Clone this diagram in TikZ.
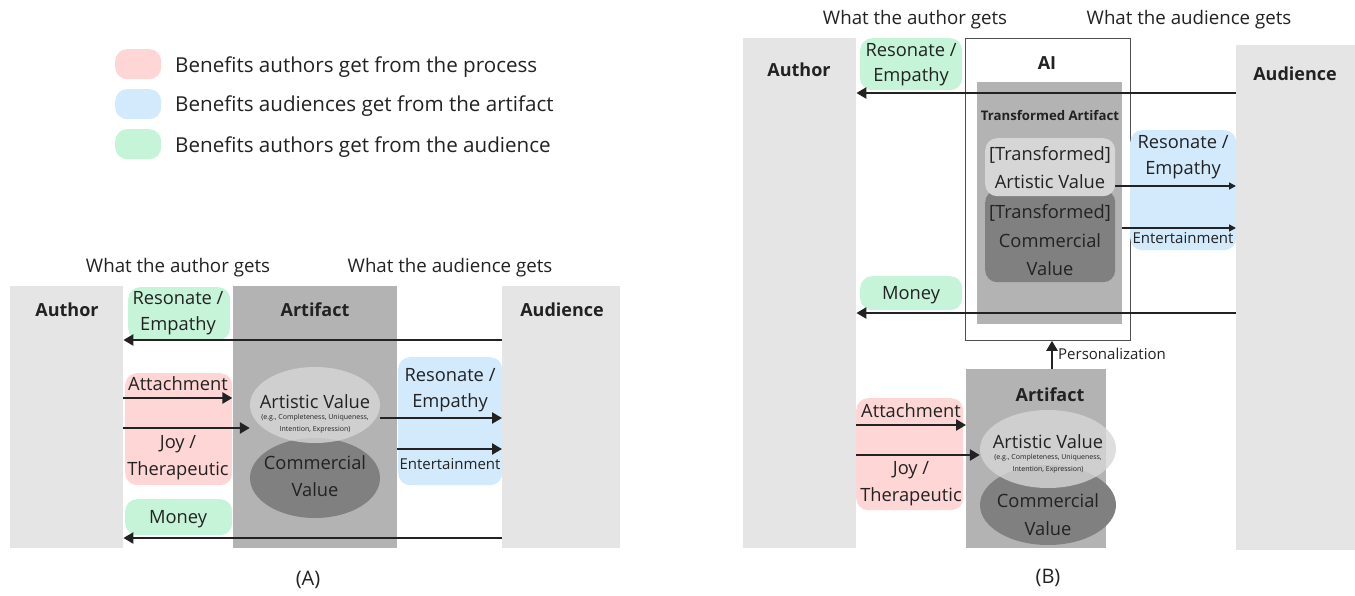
\documentclass[tikz,border=0pt]{standalone}
\usepackage{fontspec}
\setmainfont{Open Sans}
\usetikzlibrary{shapes.geometric,arrows.meta}
\definecolor{pinkb}{HTML}{FFD6D6}
\definecolor{blueb}{HTML}{D3EAFD}
\definecolor{greenb}{HTML}{C6F4D8}
\definecolor{sideg}{HTML}{E5E5E5}
\definecolor{artg}{HTML}{B3B3B3}
\definecolor{avg}{HTML}{D6D6D6}
\definecolor{cvg}{HTML}{808080}
\definecolor{txt}{HTML}{222222}
\tikzset{
  box/.style={inner sep=0pt, anchor=north west, draw=none},
  rbox/.style={box, rounded corners=12pt},
  lbl/.style={inner sep=0pt, text=txt, font=\fontsize{18.3}{21}\selectfont},
  blbl/.style={inner sep=0pt, text=txt, font=\fontsize{18}{21}\selectfont\bfseries},
  head/.style={inner sep=0pt, text=txt, font=\fontsize{18.7}{22}\selectfont},
  leg/.style={inner sep=0pt, text=txt, anchor=west, font=\fontsize{20.6}{24}\selectfont},
  ent/.style={inner sep=0pt, text=txt, font=\fontsize{15}{17}\selectfont},
  small/.style={inner sep=0pt, text=txt, font=\fontsize{7}{8}\selectfont},
  arr/.style={draw=txt, line width=2.6pt, -{Triangle[length=10pt,width=11pt]}},
  tarr/.style={draw=txt, line width=1.5pt, -{Triangle[length=7pt,width=7pt]}},
  ell/.style={ellipse, inner sep=0pt, draw=none},
}
\begin{document}
\begin{tikzpicture}[x=1pt,y=-1pt]
\useasboundingbox[fill=white] (0,0) rectangle (1355,596);
% legend
\node[rbox, fill=pinkb, minimum width=46pt, minimum height=30pt] (lp) at (115,49) {};
\node[rbox, fill=blueb, minimum width=46pt, minimum height=30pt] (lb) at (115,89) {};
\node[rbox, fill=greenb, minimum width=46pt, minimum height=30pt] (lg) at (115,129) {};
\node[leg] (lpt) at (175,67) {Benefits authors get from the process};
\node[leg] (lbt) at (175,106) {Benefits audiences get from the artifact};
\node[leg] (lgt) at (175,147) {Benefits authors get from the audience};

% ===== (A) =====
\node[head] (hAa) at (178,268) {What the author gets};
\node[head] (hAu) at (450,268) {What the audience gets};
\node[box, fill=sideg, minimum width=113pt, minimum height=262pt] (authA) at (10,286) {};
\node[box, fill=artg, minimum width=164pt, minimum height=262pt] (artA) at (233,286) {};
\node[box, fill=sideg, minimum width=118pt, minimum height=262pt] (audA) at (502,286) {};
\node[blbl] (authAL) at (67,310) {Author};
\node[blbl] (artAL) at (315,310) {Artifact};
\node[blbl] (audAL) at (562,310) {Audience};
\node[rbox, fill=greenb, minimum width=102pt, minimum height=53pt] (resA) at (128,287) {};
\node[lbl] at (178,298) {Resonate /};
\node[lbl] at (178,326) {Empathy};
\node[rbox, fill=pinkb, minimum width=107pt, minimum height=112pt] (pinkA) at (125,373) {};
\node[lbl] at (178,384) {Attachment};
\node[lbl] at (178,444) {Joy /};
\node[lbl] at (178,471) {Therapeutic};
\node[rbox, fill=blueb, minimum width=104pt, minimum height=128pt] (blueA) at (398,357) {};
\node[lbl] at (450,375) {Resonate /};
\node[lbl] at (450,403) {Empathy};
\node[ent] at (450,464) {Entertainment};
\node[rbox, fill=greenb, minimum width=107pt, minimum height=36pt] (monA) at (125,499) {};
\node[lbl] at (178,519) {Money};
\node[ell, fill=cvg, minimum width=130pt, minimum height=80pt] (cvA) at (315,478) {};
\node[ell, fill=avg, fill opacity=0.8, minimum width=130pt, minimum height=76pt] (avA) at (315,405) {};
\node[lbl] at (315,402) {Artistic Value};
\node[small] at (315,418) {(e.g., Completeness, Uniqueness,};
\node[small] at (315,430) {Intention, Expression)};
\node[lbl] at (315,463) {Commercial};
\node[lbl] at (315,490) {Value};
\draw[arr] (audA.west |- 0,340) -- (authA.east |- 0,340);
\draw[arr] (authA.east |- 0,398) -- (pinkA.east |- 0,398);
\draw[arr] (authA.east |- 0,428) -- (avA.west |- 0,428);
\draw[arr] (avA.east |- 0,418) -- (audA.west |- 0,418);
\draw[arr] (artA.east |- 0,449) -- (audA.west |- 0,449);
\draw[arr] (audA.west |- 0,538) -- (authA.east |- 0,538);
\node[head, font=\fontsize{20}{22}\selectfont] (capA) at (308,580) {(A)};

% ===== (B) =====
\node[head] (hBa) at (915,20) {What the author gets};
\node[head] (hBu) at (1189,20) {What the audience gets};
\node[box, fill=sideg, minimum width=113pt, minimum height=510pt] (authB) at (743,38) {};
\node[box, fill=sideg, minimum width=119pt, minimum height=505pt] (audB) at (1236,45) {};
\node[blbl] (authBL) at (799,70) {Author};
\node[blbl] (audBL) at (1295,74) {Audience};
\node[box, fill=white, draw=txt!80, line width=0.8pt, minimum width=165pt, minimum height=302pt] (aiB) at (965,38) {};
\node[blbl] (aiBL) at (1047,63) {AI};
\node[box, fill=artg, minimum width=145pt, minimum height=242pt] (taB) at (977,82) {};
\node[blbl, font=\fontsize{13.2}{15}\selectfont\bfseries] (taBL) at (1050,116) {Transformed Artifact};
\node[rbox, fill=cvg, minimum width=130pt, minimum height=92pt] (tcvB) at (985,190) {};
\node[rbox, fill=avg, minimum width=130pt, minimum height=58pt] (tavB) at (985,138) {};
\node[lbl] at (1050,155) {[Transformed]};
\node[lbl] at (1050,182) {Artistic Value};
\node[lbl] at (1050,213) {[Transformed]};
\node[lbl] at (1050,241) {Commercial};
\node[lbl] at (1050,269) {Value};
\node[rbox, fill=greenb, minimum width=102pt, minimum height=52pt] (resB) at (860,38) {};
\node[lbl] at (911,50) {Resonate /};
\node[lbl] at (911,77) {Empathy};
\node[rbox, fill=blueb, minimum width=106pt, minimum height=120pt] (blueB) at (1130,130) {};
\node[lbl] at (1183,142) {Resonate /};
\node[lbl] at (1183,170) {Empathy};
\node[ent] at (1183,238) {Entertainment};
\node[rbox, fill=greenb, minimum width=102pt, minimum height=34pt] (monB) at (860,276) {};
\node[lbl] at (911,295) {Money};
\draw[arr] (audB.west |- 0,93) -- (authB.east |- 0,93);
\draw[tarr] (tavB.east |- 0,186) -- (audB.west |- 0,186);
\draw[tarr] (taB.east |- 0,228) -- (audB.west |- 0,228);
\draw[arr] (audB.west |- 0,313) -- (authB.east |- 0,313);
% lower artifact
\node[box, fill=artg, minimum width=140pt, minimum height=179pt] (artB) at (966,369) {};
\node[blbl] (artBL) at (1050,395) {Artifact};
\node[rbox, fill=pinkb, minimum width=107pt, minimum height=112pt] (pinkB) at (856,398) {};
\node[lbl] at (911,411) {Attachment};
\node[lbl] at (911,470) {Joy /};
\node[lbl] at (911,497) {Therapeutic};
\node[ell, fill=cvg, minimum width=136pt, minimum height=80pt] (cvB) at (1048,505) {};
\node[ell, fill=avg, fill opacity=0.8, minimum width=136pt, minimum height=78pt] (avB) at (1048,449) {};
\node[lbl] at (1048,442) {Artistic Value};
\node[small] at (1048,458) {(e.g., Completeness, Uniqueness,};
\node[small] at (1048,470) {Intention, Expression)};
\node[lbl] at (1048,501) {Commercial};
\node[lbl] at (1048,529) {Value};
\draw[arr] (authB.east |- 0,425) -- (artB.west |- 0,425);
\draw[arr] (authB.east |- 0,455) -- (avB.west |- 0,455);
\draw[arr] (artB.north -| 1052,0) -- (aiB.south -| 1052,0);
\node[ent, anchor=west] (persB) at (1058,354) {Personalization};
\node[head, font=\fontsize{20}{22}\selectfont] (capB) at (1048,578) {(B)};
\end{tikzpicture}
\end{document}
